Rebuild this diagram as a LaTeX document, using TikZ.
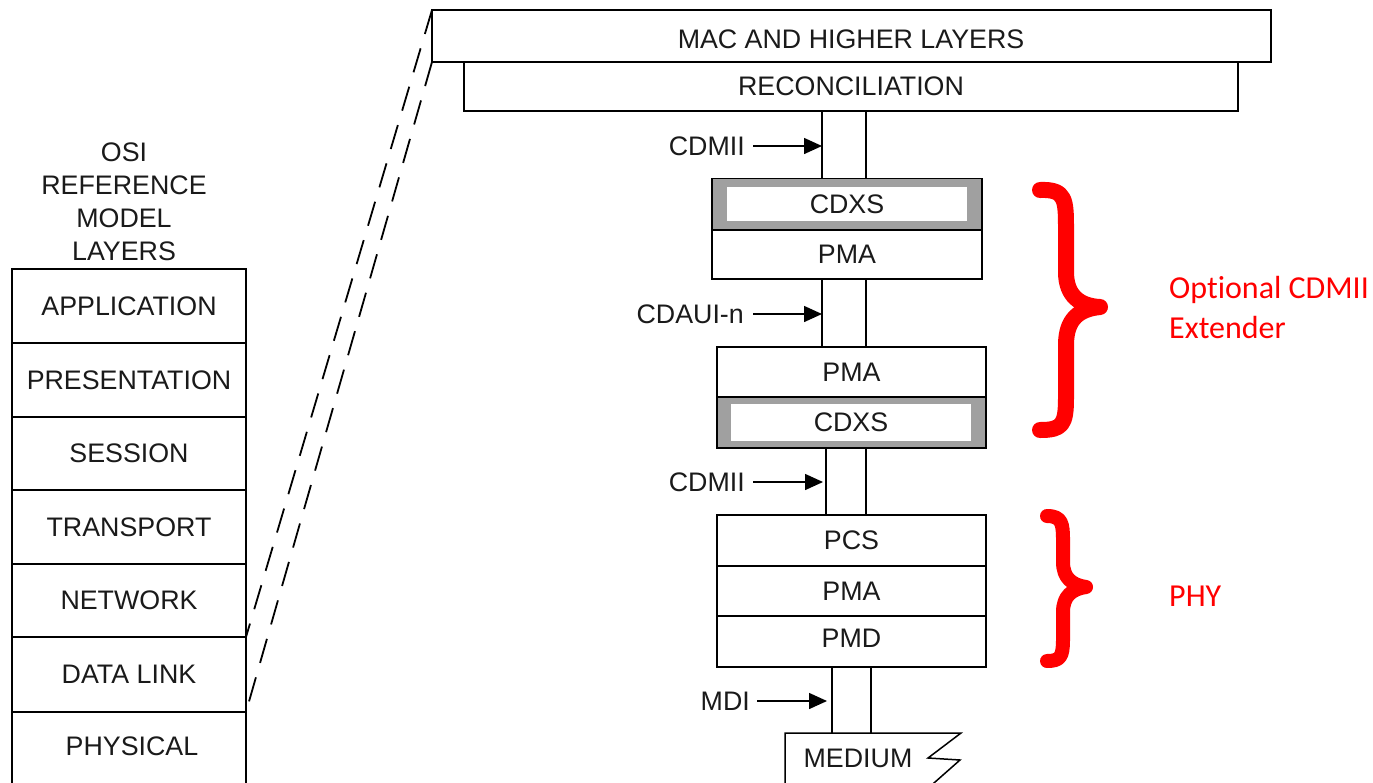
\documentclass[tikz,border=0pt]{standalone}
\usepackage{fontspec}
\setmainfont{Liberation Sans}
\newfontfamily\calfont[Ligatures=NoCommon]{Carlito}
\usetikzlibrary{arrows.meta}
\definecolor{txt}{HTML}{1A1A1A}
\definecolor{bandgray}{HTML}{A0A0A0}
\begin{document}
\begin{tikzpicture}[x=1pt,y=-1pt,
  every node/.style={font=\fontsize{26.8}{30}\selectfont, text=txt},
  box/.style={draw=black, line width=1.5pt, inner sep=0pt, outer sep=0pt, fill=white},
  band/.style={draw=black, line width=1.5pt, inner sep=0pt, outer sep=0pt, fill=bandgray},
  inner/.style={draw=none, inner sep=0pt, outer sep=0pt, fill=white},
  wire/.style={line width=1.5pt},
  lbl/.style={anchor=east, inner sep=0pt},
  arr/.style={line width=1.5pt, -{Triangle[length=18pt,width=16pt]}},
  dsh/.style={line width=1.8pt, dash pattern=on 25pt off 15pt},
  brace/.style={draw=red, line width=16pt, line cap=round, line join=round},
  redtxt/.style={font=\calfont\fontsize{32}{38}\selectfont, text=red, anchor=west, inner sep=0pt}
]
\useasboundingbox (0,0) rectangle (1373,782);
\fill[white] (0,0) rectangle (1373,782);

% OSI title
\node[align=center, font=\fontsize{26.8}{33}\selectfont] (osititle) at (124,201.5) {OSI\\REFERENCE\\MODEL\\LAYERS};

% OSI stack
\node[box, minimum width=234pt, minimum height=74pt] (app) at (129,306) {APPLICATION};
\node[box, minimum width=234pt, minimum height=74pt] (pres) at (129,380) {PRESENTATION};
\node[box, minimum width=234pt, minimum height=73pt] (sess) at (129,453.5) {SESSION};
\node[box, minimum width=234pt, minimum height=74pt] (trans) at (129,527) {TRANSPORT};
\node[box, minimum width=234pt, minimum height=73pt] (net) at (129,600.5) {NETWORK};
\node[box, minimum width=234pt, minimum height=75pt] (dl) at (129,674.5) {DATA LINK};
\node[box, minimum width=234pt, minimum height=90pt, text depth=0pt] (phys) at (129,757) {};
\node (physt) at (132,746) {PHYSICAL};

% top stack
\node[box, minimum width=839pt, minimum height=52pt] (mac) at (851.5,36) {};
\node at (851,39) {MAC AND HIGHER LAYERS};
\node[box, minimum width=774pt, minimum height=49pt] (rec) at (851,86.5) {RECONCILIATION};

% dashed
\draw[dsh] (mac.north west) -- (dl.north east);
\draw[dsh] (mac.south west) -- (dl.south east);

% CDXS 1 + PMA 1
\node[band, minimum width=270pt, minimum height=51pt] (cdxsA) at (847,204) {};
\node[inner, minimum width=240pt, minimum height=34pt] (cdxsAin) at (847,204) {CDXS};
\node[box, minimum width=270pt, minimum height=49pt] (pmaA) at (847,254.5) {PMA};

% PMA 2 + CDXS 2
\node[box, minimum width=269pt, minimum height=50pt] (pmaB) at (851.5,372) {PMA};
\node[band, minimum width=269pt, minimum height=51pt] (cdxsB) at (851.5,422.5) {};
\node[inner, minimum width=240pt, minimum height=37pt] (cdxsBin) at (851,422.5) {CDXS};

% PHY stack
\node[box, minimum width=269pt, minimum height=51pt] (pcs) at (851.5,540.5) {PCS};
\node[box, minimum width=269pt, minimum height=50pt] (pmaC) at (851.5,591) {PMA};
\node[box, minimum width=269pt, minimum height=51pt] (pmd) at (851.5,641.5) {};
\node at (851.5,638) {PMD};

% wires
\draw[wire] (rec.south -| 822,0) -- (cdxsA.north -| 822,0);
\draw[wire] (rec.south -| 866,0) -- (cdxsA.north -| 866,0);
\draw[wire] (pmaA.south -| 822,0) -- (pmaB.north -| 822,0) -- (pmaB.north -| 866,0) -- (pmaA.south -| 866,0);
\draw[wire] (cdxsB.south -| 826,0) -- (pcs.north -| 826,0);
\draw[wire] (cdxsB.south -| 866,0) -- (pcs.north -| 866,0);

% medium
\coordinate (medtl) at (785,733);
\draw[wire] (785,800) -- (medtl) -- (961,733) -- (928,758) -- (960,760) -- (926,790);
\node (medium) at (858,758) {MEDIUM};
\draw[wire] (pmd.south -| 832,0) -- (medtl -| 832,0);
\draw[wire] (pmd.south -| 871,0) -- (medtl -| 871,0);

% arrow labels
\node[lbl] (l1) at (745,146) {CDMII};
\coordinate (t1) at (822,146);
\draw[arr] ([xshift=8pt]l1.east) -- (t1);
\node[lbl] (l2) at (744,314) {CDAUI-n};
\coordinate (t2) at (822,314);
\draw[arr] ([xshift=9pt]l2.east) -- (t2);
\node[lbl] (l3) at (745,482) {CDMII};
\coordinate (t3) at (823,482);
\draw[arr] ([xshift=8pt]l3.east) -- (t3);
\node[lbl] (l4) at (750,701) {MDI};
\coordinate (t4) at (827,701);
\draw[arr] ([xshift=7pt]l4.east) -- (t4);

% braces
\draw[brace] (1040,190) .. controls (1066,189) and (1066,200) .. (1066,230) -- (1066,272)
  .. controls (1066,296) and (1080,306) .. (1100,307)
  .. controls (1080,309) and (1066,318) .. (1066,345) -- (1066,398)
  .. controls (1066,425) and (1062,430) .. (1040,430);
\draw[brace, line width=14pt] (1047,516) .. controls (1062,516) and (1063,524) .. (1063,540) -- (1063,562)
  .. controls (1063,578) and (1072,585) .. (1086,587)
  .. controls (1072,589) and (1063,596) .. (1063,612) -- (1063,640)
  .. controls (1063,657) and (1060,661) .. (1047,661);

\node[redtxt] (opt) at (1169,290) {Optional CDMII};
\node[redtxt] (ext) at (1169,328) {Extender};
\node[redtxt] (phy) at (1169,596) {PHY};
\end{tikzpicture}
\end{document}
